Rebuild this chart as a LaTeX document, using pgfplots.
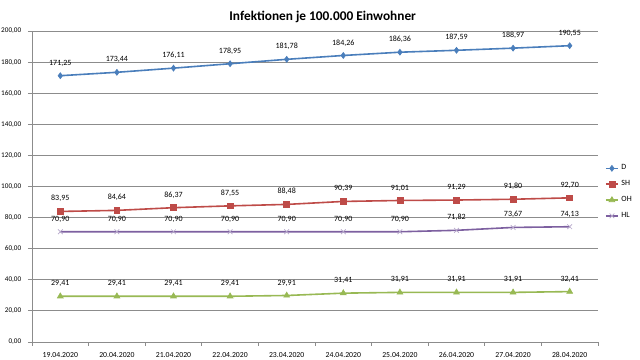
\documentclass[border=0pt]{standalone}
\usepackage{pgfplots}
\pgfplotsset{compat=1.18}
\usepackage{fontspec}
\setmainfont{Carlito}
\definecolor{cD}{HTML}{4A7EBB}
\definecolor{cSH}{HTML}{BE4B48}
\definecolor{cOH}{HTML}{98B954}
\definecolor{cHL}{HTML}{7D60A0}
\definecolor{gridc}{HTML}{8C8C8C}
\begin{document}
\begin{tikzpicture}
\path[use as bounding box] (0,0) rectangle (480pt,270pt);
\node[font=\fontsize{10}{12}\selectfont\bfseries] at (242pt,257.5pt) {Infektionen je 100.000 Einwohner};
\begin{axis}[
  at={(24pt,13.5pt)}, anchor=south west, scale only axis,
  width=424.5pt, height=233.25pt,
  xmin=-0.5, xmax=9.5, ymin=0, ymax=200,
  axis lines=left, axis line style={-, draw=gridc, line width=0.6pt},
  ytick={0,20,...,200}, ymajorgrids, grid style={draw=gridc, line width=0.6pt},
  xtick={0,...,9},
  minor xtick={-0.5,0.5,...,9.5},
  xticklabels={19.04.2020,20.04.2020,21.04.2020,22.04.2020,23.04.2020,24.04.2020,25.04.2020,26.04.2020,27.04.2020,28.04.2020},
  tick align=outside, major tick length=3pt, minor tick length=3pt,
  tick style={draw=gridc, line width=0.6pt},
  major x tick style={draw=none},
  minor x tick style={draw=gridc, line width=0.6pt},
  xticklabel style={font=\fontsize{5.8}{7}\selectfont, yshift=-1.5pt},
  yticklabel style={font=\fontsize{5.4}{7}\selectfont, xshift=-1.5pt},
  /pgf/number format/fixed, /pgf/number format/fixed zerofill,
  /pgf/number format/precision=2, /pgf/number format/use comma,
  /pgf/number format/assume math mode=true,
  nodes near coords,
  nodes near coords style={font=\fontsize{6}{7}\selectfont, text=black, yshift=3.5pt},
  legend style={at={(1.012,0.482)}, anchor=west, draw=none, fill=none,
    font=\fontsize{6}{7}\selectfont, row sep=2.5pt, inner sep=0pt},
  legend cell align=left,
  legend image code/.code={\draw[mark repeat=2,mark phase=2] plot coordinates {(0cm,0cm) (0.16cm,0cm) (0.32cm,0cm)};},
  every axis plot/.append style={line width=1.2pt},
]
\addplot[color=cD, mark=diamond*, mark size=2.2pt, mark options={solid, line width=0.5pt}] coordinates {
(0,171.25) (1,173.44) (2,176.11) (3,178.95) (4,181.78) (5,184.26) (6,186.36) (7,187.59) (8,188.97) (9,190.55)};
\addlegendentry{D}
\addplot[color=cSH, mark=square*, mark size=2.2pt, mark options={solid, line width=0.5pt}] coordinates {
(0,83.95) (1,84.64) (2,86.37) (3,87.55) (4,88.48) (5,90.39) (6,91.01) (7,91.29) (8,91.80) (9,92.70)};
\addlegendentry{SH}
\addplot[color=cOH, mark=triangle*, mark size=2.5pt, mark options={solid, line width=0.5pt}] coordinates {
(0,29.41) (1,29.41) (2,29.41) (3,29.41) (4,29.91) (5,31.41) (6,31.91) (7,31.91) (8,31.91) (9,32.41)};
\addlegendentry{OH}
\addplot[color=cHL, mark=x, mark size=2.5pt, mark options={solid, line width=0.5pt, draw=cHL!55}] coordinates {
(0,70.90) (1,70.90) (2,70.90) (3,70.90) (4,70.90) (5,70.90) (6,70.90) (7,71.82) (8,73.67) (9,74.13)};
\addlegendentry{HL}
\end{axis}
\end{tikzpicture}
\end{document}
